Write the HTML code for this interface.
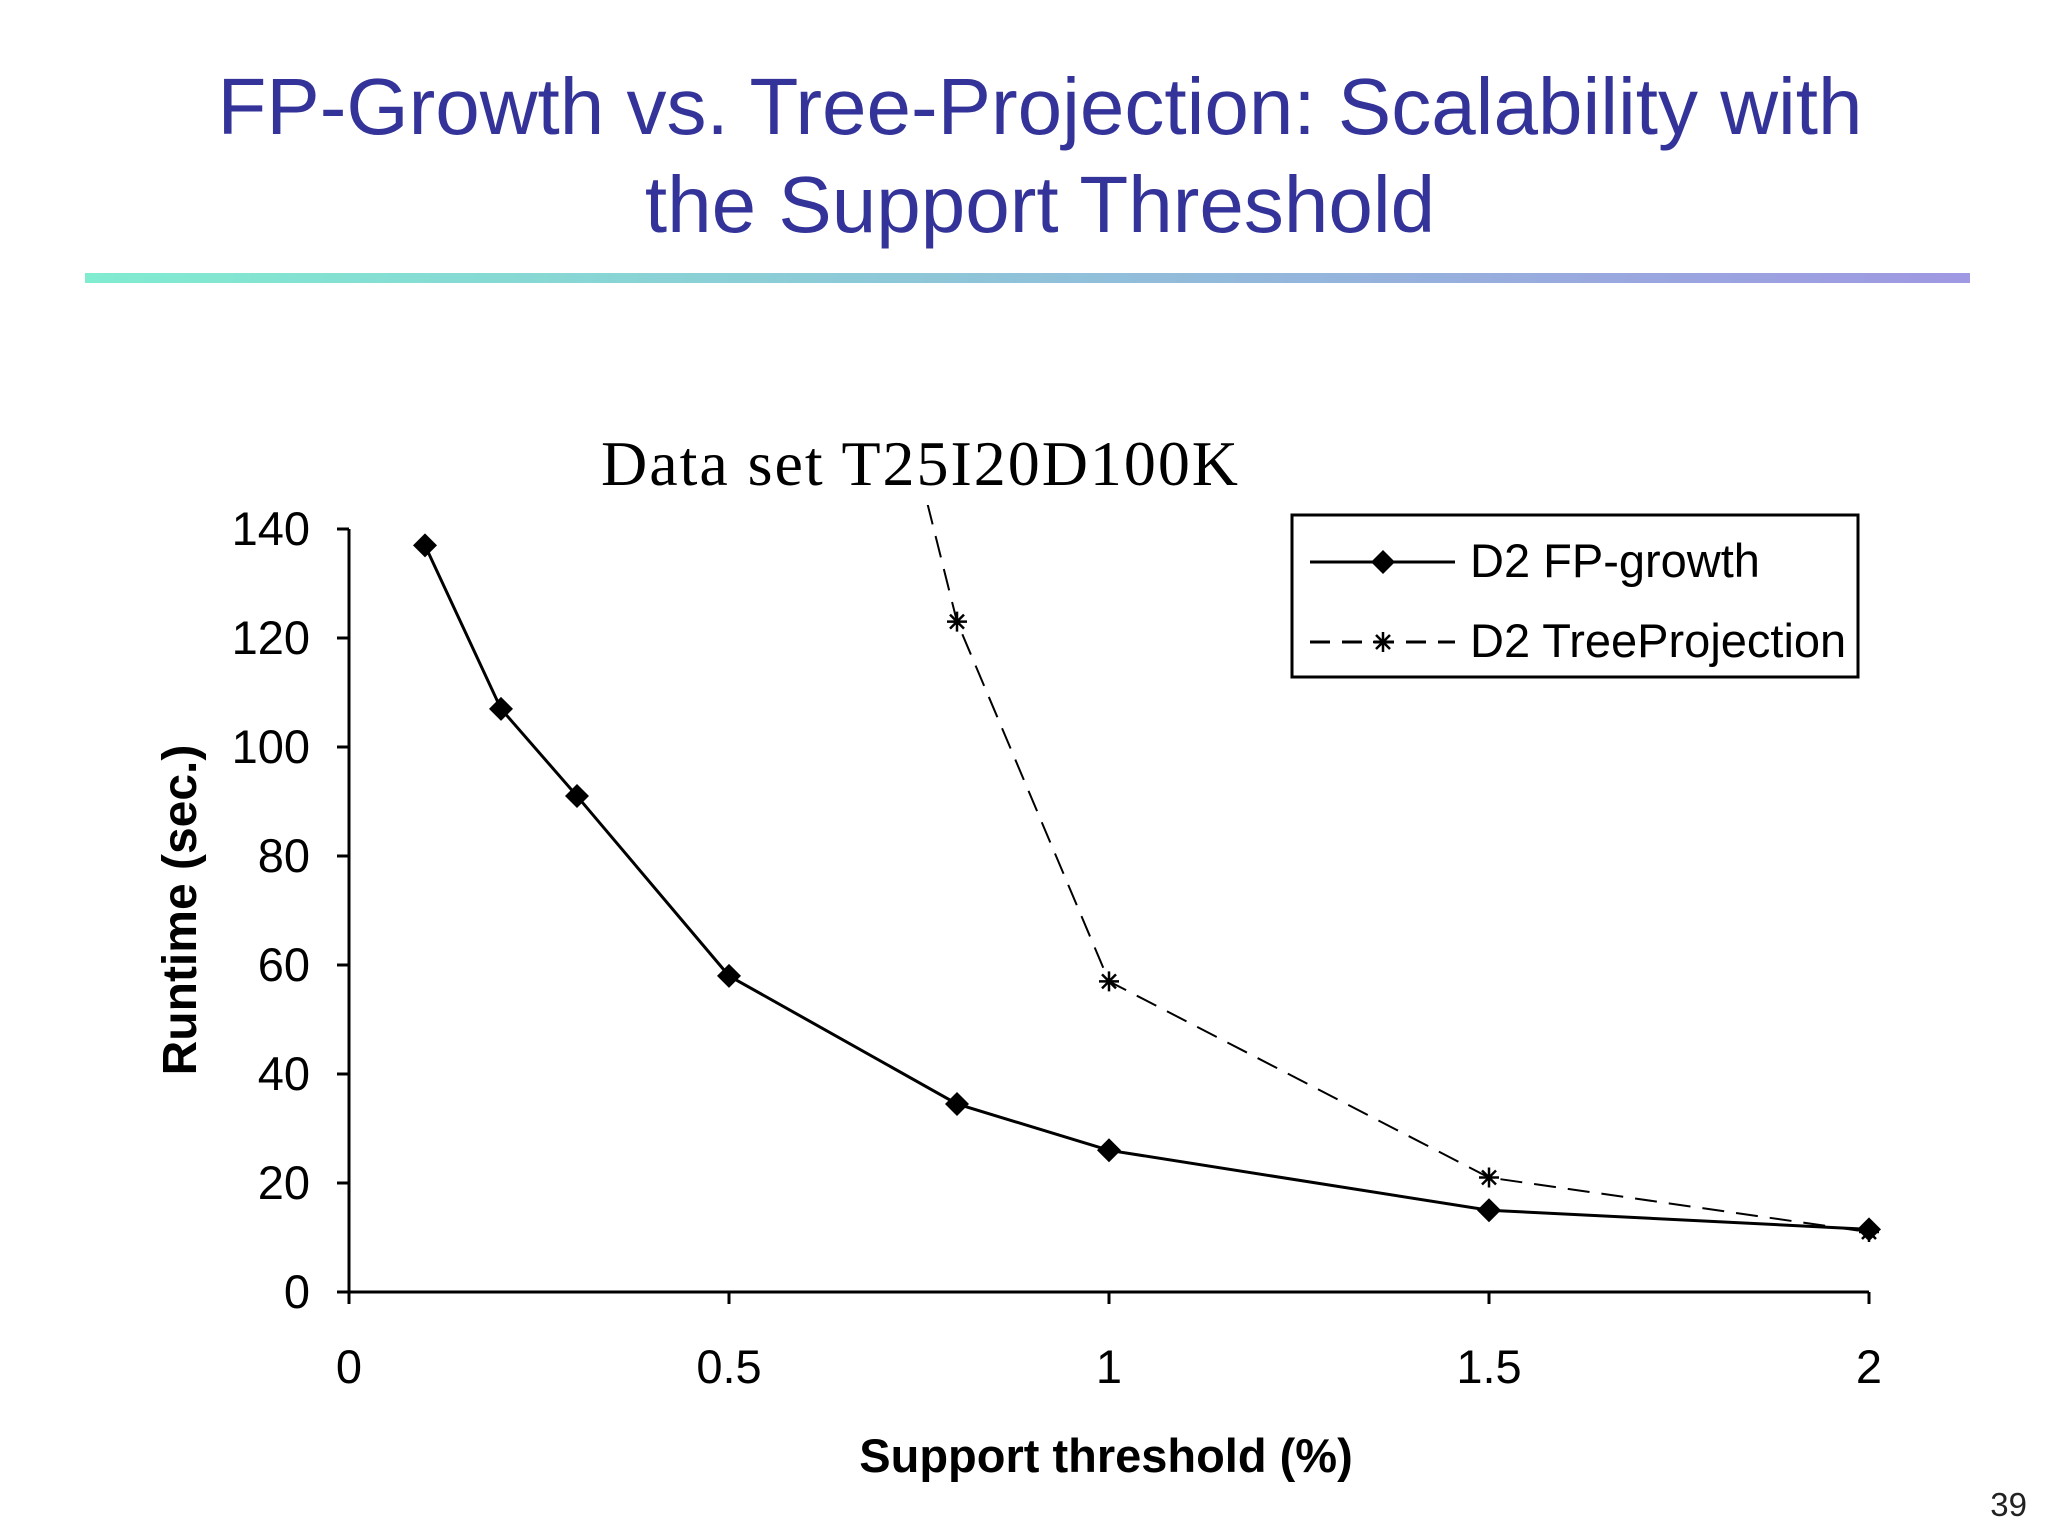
<!DOCTYPE html>
<html><head><meta charset="utf-8"><style>
html,body{margin:0;padding:0;background:#fff;}
svg{display:block;}
</style></head><body>
<svg width="2048" height="1536" viewBox="0 0 2048 1536" xmlns="http://www.w3.org/2000/svg">
<defs>
<linearGradient id="g" x1="0" x2="1"><stop offset="0" stop-color="#80ecd0"/><stop offset="1" stop-color="#9f98e2"/></linearGradient>
<clipPath id="clip"><rect x="330" y="505" width="1580" height="800"/></clipPath>
</defs>
<rect x="0" y="0" width="2048" height="1536" fill="#fff"/>
<text x="1040" y="134" text-anchor="middle" font-family="Liberation Sans, sans-serif" font-size="80" fill="#333399">FP-Growth vs. Tree-Projection: Scalability with</text>
<text x="1040" y="232" text-anchor="middle" font-family="Liberation Sans, sans-serif" font-size="80" fill="#333399">the Support Threshold</text>
<rect x="85" y="273" width="1885" height="10" fill="url(#g)"/>
<text x="601" y="485" textLength="637" font-family="Liberation Serif, serif" font-size="64" fill="#000">Data set T25I20D100K</text>
<g id="chart"></g>
<text x="2027" y="1516" text-anchor="end" font-family="Liberation Sans, sans-serif" font-size="33" fill="#222">39</text>
</svg>
<script>
const xTicks=[0,0.5,1,1.5,2];
const yTicks=[0,20,40,60,80,100,120,140];
const fpX=[0.1,0.2,0.3,0.5,0.8,1,1.5,2];
const fpY=[137,107,91,58,34.5,26,15,11.5];
const tpX=[0.5,0.8,1,1.5,2];
const tpY=[290,123,57,21,11];
const NS='http://www.w3.org/2000/svg';
const X0=349,X1=1869,Y0=1292,Y1=529;
const sx=v=>X0+(v-0)/(2-0)*(X1-X0);
const sy=v=>Y0-(v/140)*(Y0-Y1);
const g=document.getElementById('chart');
function el(t,a,p){const e=document.createElementNS(NS,t);for(const k in a)e.setAttribute(k,a[k]);(p||g).appendChild(e);return e;}
let ax=el('path',{d:`M${X0} ${Y1} V${Y0} H${X1}`,stroke:'#000','stroke-width':3,fill:'none'});


yTicks.forEach(v=>{
 const t=el('line',{x1:X0-12,x2:X0,y1:sy(v),y2:sy(v),stroke:'#000','stroke-width':3});
 
 
 const l=el('text',{x:310,y:sy(v)+16,'text-anchor':'end','font-family':'Liberation Sans, sans-serif','font-size':47});
 l.textContent=v;
 
 
});
xTicks.forEach(v=>{
 const t=el('line',{x1:sx(v),x2:sx(v),y1:Y0,y2:Y0+12,stroke:'#000','stroke-width':3});
 
 
 const l=el('text',{x:sx(v),y:1383,'text-anchor':'middle','font-family':'Liberation Sans, sans-serif','font-size':47});
 l.textContent=v;
 
 
});
let yt=el('text',{x:0,y:0,transform:'translate(196 910) rotate(-90)','text-anchor':'middle','font-family':'Liberation Sans, sans-serif','font-size':48,'font-weight':'bold'});
yt.textContent='Runtime (sec.)';


let xt=el('text',{x:1106,y:1472,'text-anchor':'middle','font-family':'Liberation Sans, sans-serif','font-size':47,'font-weight':'bold'});
xt.textContent='Support threshold (%)';


const cg=el('g',{'clip-path':'url(#clip)'});
let tp=el('polyline',{points:tpX.map((x,i)=>sx(x)+','+sy(tpY[i])).join(' '),fill:'none',stroke:'#000','stroke-width':2,'stroke-dasharray':'22,12'},cg);


let fp=el('polyline',{points:fpX.map((x,i)=>sx(x)+','+sy(fpY[i])).join(' '),fill:'none',stroke:'#000','stroke-width':3},cg);


function star(cx,cy,r,parent){
 const d=`M${cx-r} ${cy}H${cx+r}M${cx} ${cy-r}V${cy+r}M${cx-r*.7} ${cy-r*.7}L${cx+r*.7} ${cy+r*.7}M${cx-r*.7} ${cy+r*.7}L${cx+r*.7} ${cy-r*.7}`;
 return el('path',{d,stroke:'#000','stroke-width':2.5,fill:'none'},parent);
}
function diamond(cx,cy,r,parent){
 return el('path',{d:`M${cx} ${cy-r}L${cx+r} ${cy}L${cx} ${cy+r}L${cx-r} ${cy}Z`,fill:'#000'},parent);
}
tpX.forEach((x,i)=>{const m=star(sx(x),sy(tpY[i]),10,cg);
 
 });
fpX.forEach((x,i)=>{const m=diamond(sx(x),sy(fpY[i]),12,cg);
 
 });
const lg=el('g',{});


el('rect',{x:1292,y:515,width:566,height:162,fill:'#fff',stroke:'#000','stroke-width':3},lg);
el('line',{x1:1310,x2:1455,y1:562,y2:562,stroke:'#000','stroke-width':3},lg);
diamond(1383,562,12,lg);
let t1=el('text',{x:1470,y:577,'font-family':'Liberation Sans, sans-serif','font-size':47},lg);
t1.textContent='D2 FP-growth';


el('line',{x1:1310,x2:1455,y1:642,y2:642,stroke:'#000','stroke-width':3,'stroke-dasharray':'20,12'},lg);
star(1383,642,10,lg);
let t2=el('text',{x:1470,y:657,'font-family':'Liberation Sans, sans-serif','font-size':47},lg);
t2.textContent='D2 TreeProjection';


</script>
</body></html>
